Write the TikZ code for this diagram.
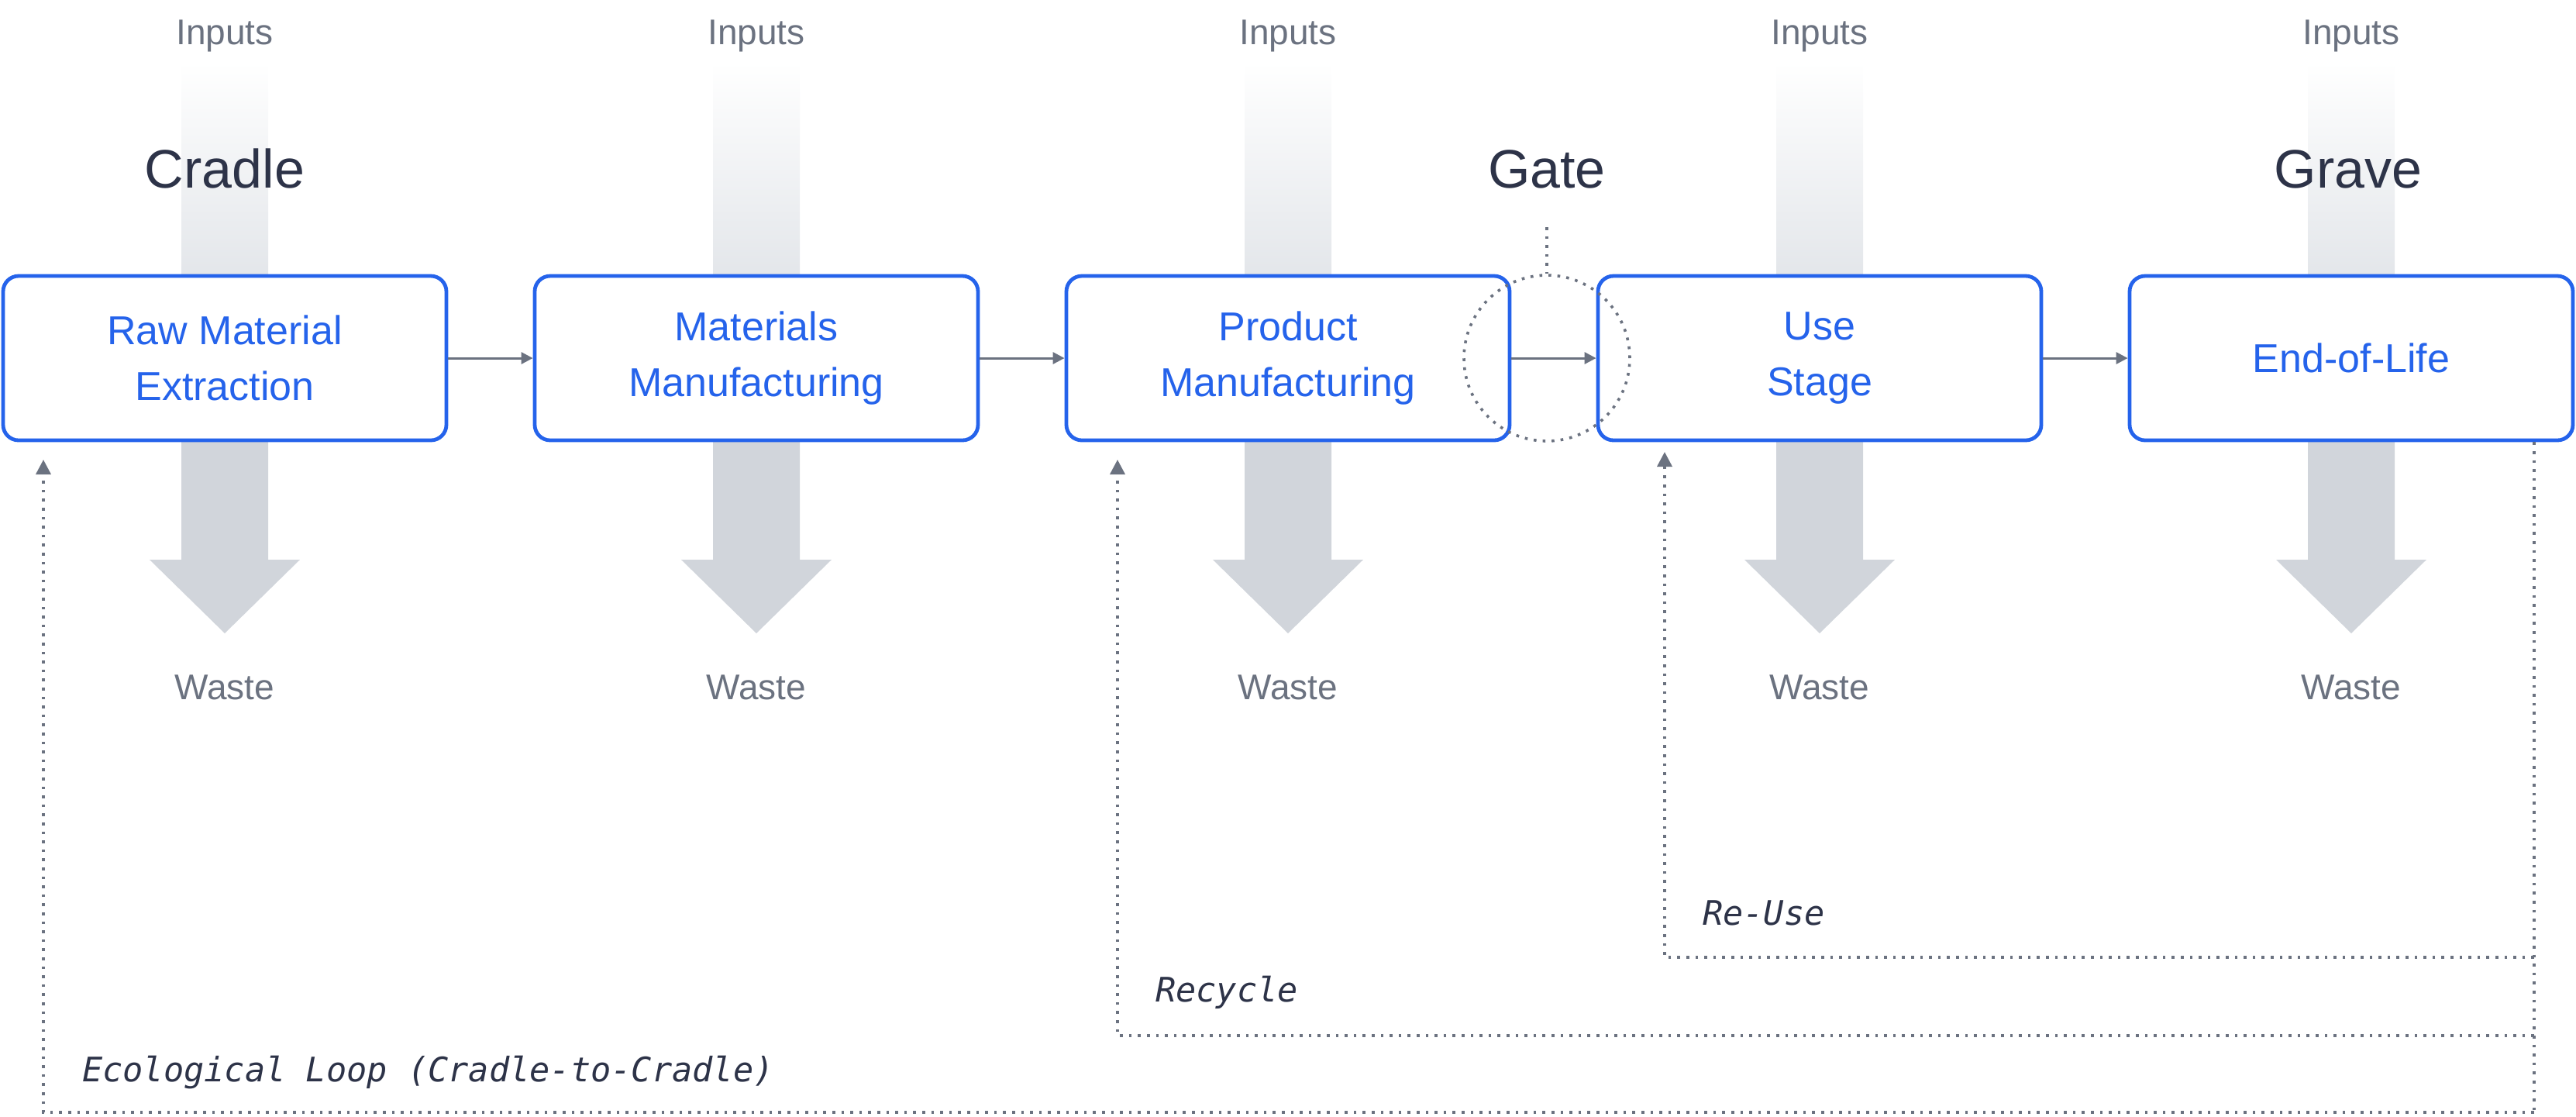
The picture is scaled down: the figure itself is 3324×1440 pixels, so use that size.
\documentclass[tikz,border=0pt]{standalone}
\usepackage{fontspec}
\setmainfont{Liberation Sans}
\newfontfamily\loopfont{DejaVu Sans Mono}
\usetikzlibrary{arrows.meta}
\definecolor{boxblue}{HTML}{2563EB}
\definecolor{flowgray}{HTML}{6B7280}
\definecolor{darktext}{HTML}{2D3348}
\definecolor{wastegray}{HTML}{D1D5DB}
\definecolor{inputgray}{HTML}{E3E6EA}

\begin{document}
\begin{tikzpicture}[x=0.25pt,y=-0.25pt,
		stage/.style={draw=boxblue, line width=1.2pt, rounded corners=5pt, fill=white,
			minimum width=143pt, minimum height=53pt, inner sep=0pt, align=center,
			text=boxblue, font=\fontsize{13}{18}\selectfont},
		tag/.style={anchor=base, text=flowgray, font=\fontsize{11.5}{14}\selectfont},
		phase/.style={anchor=base, text=darktext, font=\fontsize{17.5}{20}\selectfont},
		looptag/.style={anchor=base west, text=darktext, font=\loopfont\itshape\fontsize{10.9}{13}\selectfont},
		flow/.style={draw=flowgray, line width=0.75pt, -{Triangle[length=3.75pt,width=3.75pt]}},
		dotline/.style={draw=flowgray, line width=0.9pt, dash pattern=on 0.9pt off 2pt},
		loopline/.style={dotline, -{Triangle[length=4.75pt,width=4.75pt]}}]
		\useasboundingbox (0,0) rectangle (3324,1440);
		
		% inputs and waste
		\foreach \c [count=\i] in {290,976,1662,2348,3034} {
			\shade[top color=white, bottom color=inputgray] (\c-56,80) rectangle (\c+56,357);
			\fill[wastegray] (\c-56,462) -- (\c+56,462) -- (\c+56,722) -- (\c+97,722)
				-- (\c,817) -- (\c-97,722) -- (\c-56,722) -- cycle;
			\node[tag] (in\i) at (\c,57) {Inputs};
			\node[tag] (waste\i) at (\c,902) {Waste};
		}
		
		% stages
		\node[stage] (raw) at (290,462) {Raw Material\\Extraction};
		\node[stage] (matman) at (976,462) {Materials\\Manufacturing};
		\node[stage] (prodman) at (1662,462) {Product\\Manufacturing};
		\node[stage] (use) at (2348,462) {Use\\Stage};
		\node[stage] (eol) at (3034,462) {End-of-Life};
		
		\draw[flow] (raw) -- (matman);
		\draw[flow] (matman) -- (prodman);
		\draw[flow] (prodman) -- (use);
		\draw[flow] (use) -- (eol);
		
		% phases
		\node[phase] (cradle) at (290,242) {Cradle};
		\node[phase] (gate) at (1996,242) {Gate};
		\node[phase] (grave) at (3030,242) {Grave};
		
		% gate ring
		\node[circle, dotline, minimum size=53.5pt, inner sep=0pt] (gatering) at (1996,462) {};
		\coordinate (gatetick) at (1996,293);
		\draw[dotline] (gatetick) -- (gatering.north);
		
		% loops back
		\coordinate (rbot) at (3270,1435);
		\coordinate (reustart) at (3270,1235);
		\coordinate (recstart) at (3270,1336);
		\coordinate (reuend) at (2148,583);
		\coordinate (recend) at (1442,593);
		\coordinate (ecoend) at (56,593);
		\draw[dotline] (eol.south -| rbot) -- (rbot);
		\draw[loopline] (reustart) -| (reuend);
		\draw[loopline] (recstart) -| (recend);
		\draw[loopline] (rbot) -| (ecoend);
		
		% loop labels
		\node[looptag] (reuse) at (2183,1193) {Re-Use};
		\node[looptag] (recycle) at (1477,1292) {Recycle};
		\node[looptag] (eco) at (92,1395) {Ecological Loop (Cradle-to-Cradle)};
	\end{tikzpicture}
\end{document}
